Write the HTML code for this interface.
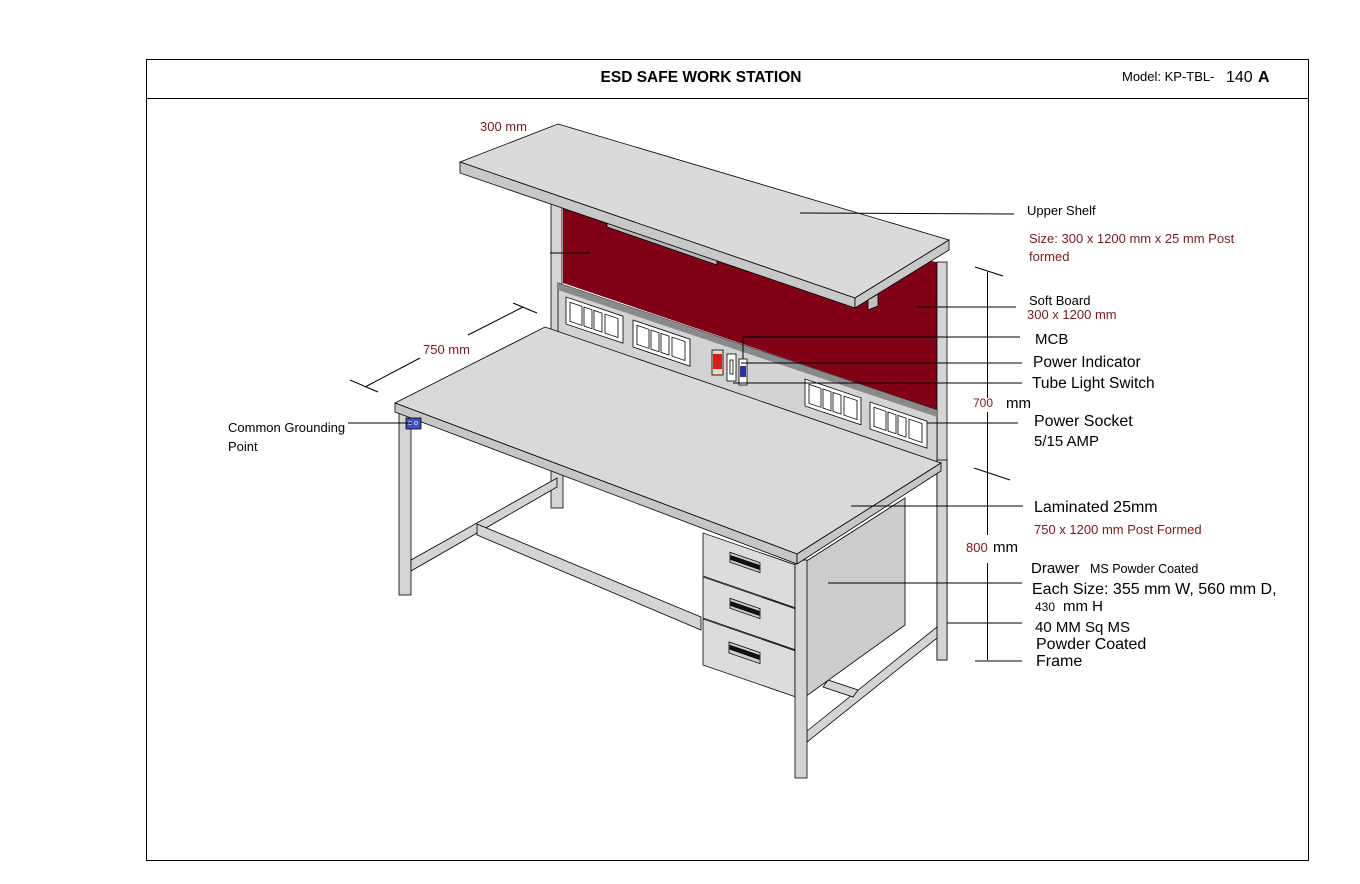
<!DOCTYPE html>
<html><head><meta charset="utf-8"><style>
html,body{margin:0;padding:0;background:#fff;}
svg{display:block;font-family:"Liberation Sans",sans-serif;}
</style></head><body>
<svg width="1360" height="884" viewBox="0 0 1360 884" xmlns="http://www.w3.org/2000/svg">
<rect x="0" y="0" width="1360" height="884" fill="#fff"/>
<rect x="146.5" y="59.5" width="1162" height="801" fill="none" stroke="#000" stroke-width="1"/>
<line x1="146" y1="98.5" x2="1308" y2="98.5" stroke="#000"/>
<text x="701" y="82" font-size="15.5" font-weight="bold" text-anchor="middle">ESD SAFE WORK STATION</text>
<text x="1122" y="81" font-size="13">Model: KP-TBL-</text>
<text x="1226" y="82" font-size="16">140</text>
<text x="1258" y="82" font-size="16" font-weight="bold">A</text>

<g stroke="#000" stroke-width="0.8">
<!-- red soft board -->
<polygon points="563,205 937,262 937,410 563,283" fill="#800015" stroke="none"/>
<!-- posts upper -->
<rect x="551" y="200" width="11" height="135" fill="#d4d4d4"/>
<rect x="937" y="262" width="10" height="398" fill="#d4d4d4"/>
<!-- panel strip -->
<polygon points="558,283 937,410 937,465 558,335" fill="#d3d3d3"/>
<polygon points="558,283 937,410 937,417 558,290" fill="#8a8a8a" stroke="none"/>
<!-- sockets -->
<g transform="translate(566,297) skewY(18.6)" fill="#fff">
<rect x="0" y="0" width="57" height="27"/><rect x="4" y="4" width="12" height="19"/><rect x="18" y="4" width="8" height="19"/><rect x="28" y="4" width="8" height="19"/><rect x="39" y="4" width="13" height="19"/>
</g>
<g transform="translate(633,320) skewY(18.6)" fill="#fff">
<rect x="0" y="0" width="57" height="27"/><rect x="4" y="4" width="12" height="19"/><rect x="18" y="4" width="8" height="19"/><rect x="28" y="4" width="8" height="19"/><rect x="39" y="4" width="13" height="19"/>
</g>
<g transform="translate(805,379) skewY(18.6)" fill="#fff">
<rect x="0" y="0" width="56" height="27"/><rect x="4" y="4" width="12" height="19"/><rect x="18" y="4" width="8" height="19"/><rect x="28" y="4" width="8" height="19"/><rect x="39" y="4" width="13" height="19"/>
</g>
<g transform="translate(870,402) skewY(18.6)" fill="#fff">
<rect x="0" y="0" width="57" height="27"/><rect x="4" y="4" width="12" height="19"/><rect x="18" y="4" width="8" height="19"/><rect x="28" y="4" width="8" height="19"/><rect x="39" y="4" width="13" height="19"/>
</g>
<!-- indicator, switch, MCB -->
<rect x="712" y="350" width="11" height="25" fill="#f0d8c0"/><rect x="713" y="354" width="9" height="15" fill="#d02020" stroke="none"/>
<rect x="727" y="354" width="9" height="27" fill="#fff"/><rect x="730" y="360" width="3" height="14" fill="#fff"/>
<rect x="739" y="359" width="8" height="26" fill="#fff"/><rect x="740" y="366" width="6" height="11" fill="#3030a0" stroke="none"/>
<!-- tube light -->
<polygon points="607,220 717,258 717,265 607,227" fill="#b8b8b8"/>
<!-- upper shelf -->
<polygon points="460,162 558,124 949,240 855,298" fill="#dadada"/>
<polygon points="460,162 855,298 855,308 460,173" fill="#c8c8c8"/>
<polygon points="855,298 949,240 949,250 855,308" fill="#c8c8c8"/>
<polygon points="868,300 878,294 878,306 868,310" fill="#c0c0c0"/>
<!-- legs lower -->
<rect x="399" y="410" width="12" height="185" fill="#d4d4d4"/>
<rect x="551" y="470" width="12" height="38" fill="#d4d4d4"/>
<rect x="937" y="460" width="10" height="200" fill="#d4d4d4"/>
<!-- stretchers -->
<polygon points="411,560 557,478 557,487 411,571" fill="#d4d4d4"/>
<polygon points="477,524 701,617 701,630 477,535" fill="#d4d4d4"/>
<polygon points="807,731 937,627 937,638 807,742" fill="#d4d4d4"/>
<polygon points="828,680 858,690 853,697 823,687" fill="#d4d4d4"/>
<!-- cabinet side -->
<polygon points="805,562 905,498 905,625 805,697" fill="#cccccc"/>
<!-- drawers -->
<g transform="translate(703,533) skewY(19)" fill="#dcdcdc">
<rect x="0" y="0" width="92" height="43"/>
<rect x="0" y="44" width="92" height="41"/>
<rect x="0" y="86" width="92" height="46"/>
<rect x="27" y="10" width="30" height="10" fill="#ccc"/><rect x="28" y="13" width="28" height="4" fill="#111"/>
<rect x="27" y="56" width="30" height="10" fill="#ccc"/><rect x="28" y="59" width="28" height="4" fill="#111"/>
<rect x="26" y="100" width="31" height="11" fill="#ccc"/><rect x="27" y="103" width="29" height="4" fill="#111"/>
</g>
<rect x="795" y="560" width="12" height="218" fill="#d4d4d4"/>
<!-- desk top -->
<polygon points="395,403 545,327 941,463 797,554" fill="#d9d9d9"/>
<polygon points="395,403 797,554 797,564 395,412" fill="#c6c6c6"/>
<polygon points="797,554 941,463 941,471 797,564" fill="#c6c6c6"/>
<!-- grounding -->
<rect x="406" y="418" width="15" height="11" fill="#4050c8"/>
<circle cx="410" cy="423" r="1.6" fill="none" stroke="#fff" stroke-width="0.6"/><circle cx="416" cy="423" r="1.6" fill="none" stroke="#fff" stroke-width="0.6"/>
</g>

<!-- leader lines -->
<g stroke="#000" stroke-width="1" fill="none">
<line x1="800" y1="213" x2="1014" y2="214"/>
<line x1="917" y1="307" x2="1016" y2="307"/>
<line x1="550" y1="253" x2="590" y2="253"/>
<polyline points="743,359 743,337 1020,337"/>
<line x1="741" y1="363" x2="1022" y2="363"/>
<line x1="733" y1="383" x2="1022" y2="383"/>
<line x1="927" y1="423" x2="1018" y2="423"/>
<line x1="851" y1="506" x2="1023" y2="506"/>
<line x1="828" y1="583" x2="1022" y2="583"/>
<line x1="947" y1="623" x2="1022" y2="623"/>
<line x1="348" y1="423" x2="412" y2="423"/>
<!-- vertical dim -->
<line x1="987.5" y1="272" x2="987.5" y2="398"/>
<line x1="987.5" y1="412" x2="987.5" y2="535"/>
<line x1="987.5" y1="563" x2="987.5" y2="660"/>
<line x1="975" y1="267" x2="1003" y2="276"/>
<line x1="974" y1="468" x2="1010" y2="480"/>
<line x1="975" y1="661" x2="1022" y2="661"/>
<!-- 750 dim -->
<line x1="365" y1="387" x2="420" y2="358"/>
<line x1="468" y1="335" x2="523" y2="307"/>
<line x1="350" y1="380" x2="378" y2="392"/>
<line x1="513" y1="303" x2="537" y2="313"/>
</g>

<!-- labels -->
<g font-size="13" fill="#000">
<text x="1027" y="215">Upper Shelf</text>
<text x="1029" y="243" fill="#7a1a22">Size: 300 x 1200 mm x 25 mm Post</text>
<text x="1029" y="261" fill="#7a1a22">formed</text>
<text x="1029" y="305">Soft Board</text>
<text x="1027" y="319" fill="#7a1a22">300 x 1200  mm</text>
<text x="1035" y="344" font-size="15">MCB</text>
<text x="1033" y="367" font-size="15.5">Power Indicator</text>
<text x="1032" y="388" font-size="15.5">Tube Light Switch</text>
<text x="973" y="407" fill="#7a1a22" font-size="12">700</text>
<text x="1006" y="408" font-size="15">mm</text>
<text x="1034" y="426" font-size="16">Power Socket</text>
<text x="1034" y="446" font-size="15">5/15 AMP</text>
<text x="1034" y="512" font-size="16">Laminated 25mm</text>
<text x="1034" y="534" fill="#7a1a22" font-size="13">750 x 1200 mm Post Formed</text>
<text x="966" y="552" fill="#7a1a22" font-size="13">800</text>
<text x="993" y="552" font-size="15">mm</text>
<text x="1031" y="573" font-size="15">Drawer</text>
<text x="1090" y="573" font-size="12.5">MS Powder Coated</text>
<text x="1032" y="594" font-size="16">Each Size: 355 mm W, 560 mm D,</text>
<text x="1035" y="611" font-size="12">430</text>
<text x="1063" y="611" font-size="15">mm H</text>
<text x="1035" y="632" font-size="15">40 MM Sq MS</text>
<text x="1036" y="649" font-size="16">Powder Coated</text>
<text x="1036" y="666" font-size="16">Frame</text>
<text x="480" y="131" fill="#7a1a22">300 mm</text>
<text x="423" y="354" fill="#7a1a22">750 mm</text>
<text x="228" y="432">Common Grounding</text>
<text x="228" y="451">Point</text>
</g>
</svg>
</body></html>
